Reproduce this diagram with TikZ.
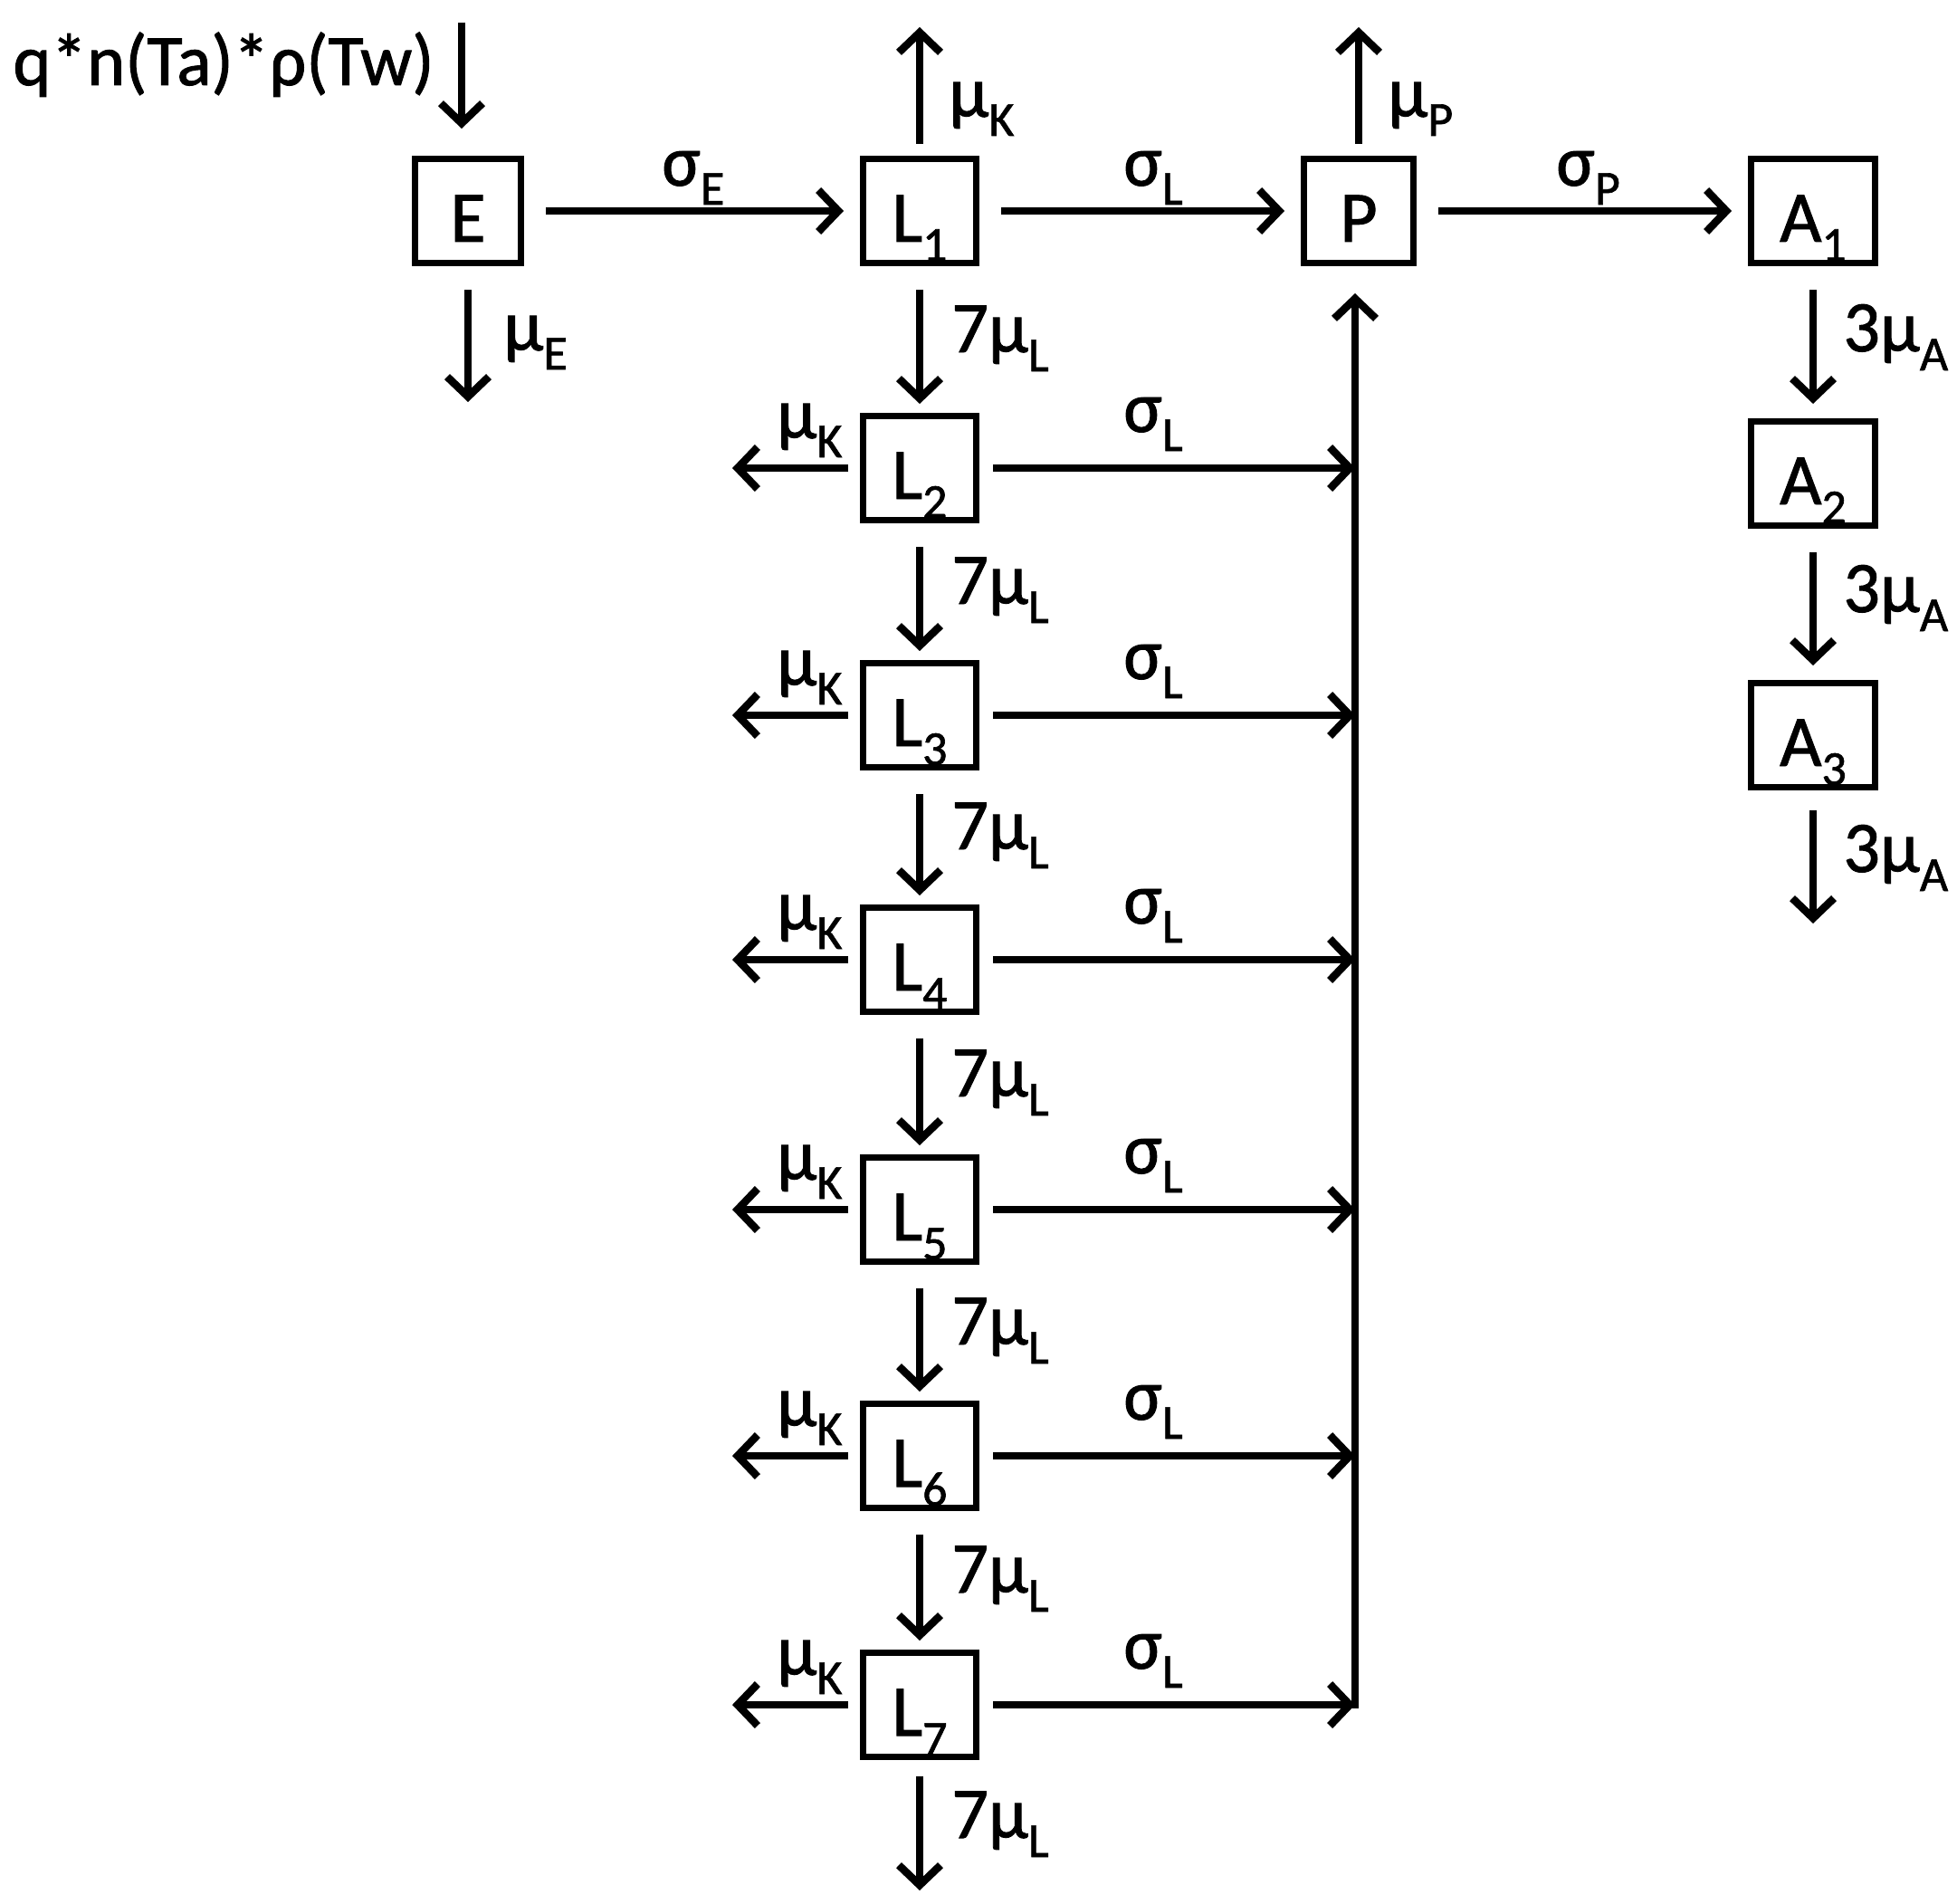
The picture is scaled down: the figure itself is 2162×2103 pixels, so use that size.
\documentclass[tikz,border=0pt]{standalone}
\usepackage{fontspec}
\setmainfont{Carlito}[FakeBold=1.2]
\usetikzlibrary{arrows.meta,calc}
\newcommand{\lo}[1]{\raisebox{-10.5pt}{\fontsize{27}{27}\selectfont #1}}
\begin{document}
\begin{tikzpicture}[x=0.5pt,y=-0.5pt,
  box/.style={draw, line width=3.5pt, minimum height=57.5pt, inner sep=0pt,
    text height=40pt, text depth=6pt, font=\fontsize{40}{48}\selectfont},
  lab/.style={anchor=base west, inner sep=0pt, font=\fontsize{40}{48}\selectfont},
  arr/.style={line width=4.25pt, -{Straight Barb[length=11pt,width=23pt]}},
]
\useasboundingbox (0,0) rectangle (2162,2103);
% boxes
\node[box, minimum width=58.5pt] (E) at (517,233) {E};
\node[box, minimum width=62.5pt] (L1) at (1016,233) {L\lo{1}};
\node[box, minimum width=60.5pt] (P) at (1501,233) {P};
\node[box, minimum width=68.5pt] (A1) at (2003,233) {A\lo{1}};
\node[box, minimum width=68.5pt] (A2) at (2003,523) {A\lo{2}};
\node[box, minimum width=68.5pt] (A3) at (2003,812) {A\lo{3}};
\foreach \i/\y in {2/517,3/790,4/1060,5/1336,6/1608,7/1883}{
  \node[box, minimum width=62.5pt] (L\i) at (1016,\y) {L\lo{\i}};
}
% free ends
\coordinate (in) at (510,25);
\coordinate (muE) at (517,444);
\coordinate (upK) at (1016,30);
\coordinate (upP) at (1501,30);
\coordinate (Lend) at (1016,2088);
\coordinate (Aend) at (2003,1020);
\coordinate (tb) at (1497,1883);
% top row
\draw[arr, shorten >=15pt] (in) -- (in |- E.north);
\draw[arr, shorten <=13pt] (E) -- (muE);
\draw[arr, shorten <=12pt, shorten >=9pt] (E) -- (L1);
\draw[arr, shorten <=12pt, shorten >=9pt] (L1) -- (P);
\draw[arr, shorten <=12pt, shorten >=9pt] (P) -- (A1);
\draw[arr, shorten <=6.5pt] (L1) -- (upK);
\draw[arr, shorten <=6.5pt] (P) -- (upP);
% adults
\draw[arr, shorten <=13pt, shorten >=8pt] (A1) -- (A2);
\draw[arr, shorten <=13pt, shorten >=8pt] (A2) -- (A3);
\draw[arr, shorten <=11pt] (A3) -- (Aend);
% larval chain
\draw[arr, shorten <=13pt, shorten >=5pt] (L1) -- (L2);
\foreach \i/\j in {2/3,3/4,4/5,5/6,6/7}{
  \draw[arr, shorten <=13pt, shorten >=5pt] (L\i) -- (L\j);
}
\draw[arr, shorten <=9pt] (L7) -- (Lend);
% trunk to P
\draw[arr, shorten >=15pt] ([yshift=-2.1pt]tb) -- (tb |- P.south);
\foreach \i/\y in {2/517,3/790,4/1060,5/1336,6/1608,7/1883}{
  \coordinate (k\i) at (809,\y);
  \draw[arr, shorten <=6.5pt] (L\i) -- (k\i);
  \draw[arr, shorten <=7.5pt] (L\i) -- (L\i -| tb);
  \node[lab] (lk\i) at (858,\y-33) {μ\lo{K}};
  \node[lab] (ls\i) at (1241,\y-40) {σ\lo{L}};
}
% labels
\node[lab] (tin) at (14,94) {q*n(Ta)*ρ(Tw)};
\node[lab] (lmuE) at (556,387) {μ\lo{E}};
\node[lab] (lsE) at (731,205) {σ\lo{E}};
\node[lab] (lsL1) at (1241,205) {σ\lo{L}};
\node[lab] (lsP) at (1719,205) {σ\lo{P}};
\node[lab] (lmuK1) at (1048,129) {μ\lo{K}};
\node[lab] (lmuP) at (1533,129) {μ\lo{P}};
\foreach \n/\y in {a/389,b/667,c/938,d/1211,e/1485,f/1759,g/2030}{
  \node[lab] (l7\n) at (1051,\y) {7μ\lo{L}};
}
\foreach \n/\y in {a/388,b/676,c/963}{
  \node[lab] (l3\n) at (2036,\y) {3μ\lo{A}};
}
\end{tikzpicture}
\end{document}
